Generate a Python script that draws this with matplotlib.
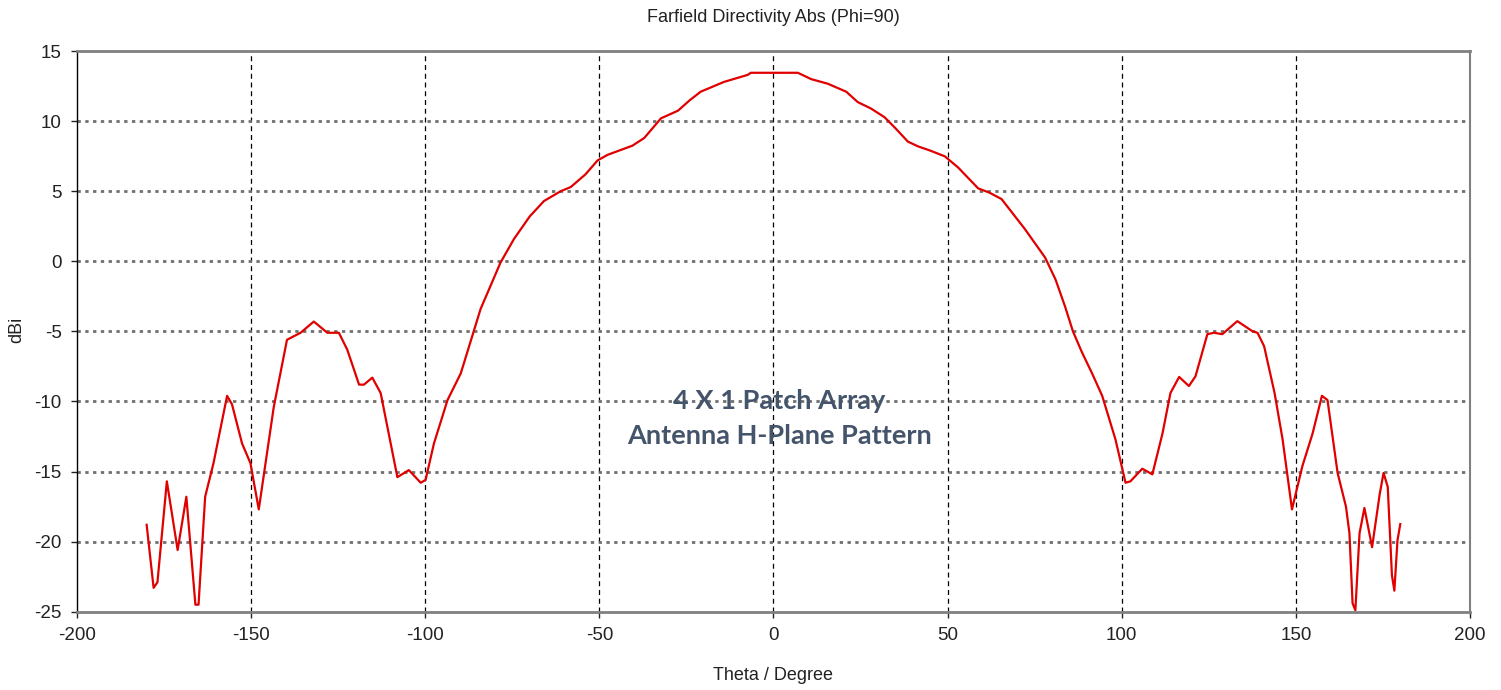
import matplotlib
matplotlib.use("Agg")
import matplotlib.pyplot as plt
import numpy as np

# Farfield directivity, phi = 90 cut
theta = [-180.0, -178.0, -176.9, -174.2, -171.1, -168.6, -166.0, -165.1, -163.2, -160.8,
         -156.9, -155.5, -152.6, -150.2, -147.8, -143.5, -139.7, -135.8, -132.0, -128.1,
         -124.8, -122.4, -119.0, -117.6, -115.2, -112.8, -108.0, -104.7, -101.3, -99.9,
         -97.5, -93.6, -89.8, -84.1, -78.4, -74.5, -70.0, -65.9, -61.1, -58.2, -54.0, -50.5,
         -47.6, -40.5, -37.1, -32.3, -27.4, -24.0, -20.9, -14.2, -7.4, -6.5, 0.0,
         7.0, 10.8, 15.6, 20.9, 24.2, 28.0, 31.9, 35.0, 38.6, 41.5, 45.0, 49.2, 53.0,
         58.8, 62.0, 65.5, 72.2, 78.0, 81.0, 83.7, 86.0, 88.6, 91.5, 94.4, 98.2, 101.1, 102.5,
         105.9, 108.8, 111.7, 114.0, 116.5, 119.3, 121.2, 124.6, 126.5, 128.9,
         133.2, 137.6, 139.0, 140.9, 143.9, 146.2, 148.9, 151.9, 154.8, 157.5,
         159.1, 162.0, 164.4, 165.4, 166.3, 167.1, 168.3, 169.7, 171.9, 174.1,
         175.2, 176.4, 177.6, 178.3, 179.2, 180.0]
dbi = [-18.8, -23.3, -22.9, -15.7, -20.6, -16.8, -24.5, -24.5, -16.8, -14.4,
       -9.6, -10.2, -13.0, -14.4, -17.7, -10.4, -5.6, -5.1, -4.3, -5.1,
       -5.1, -6.3, -8.8, -8.8, -8.3, -9.4, -15.4, -14.9, -15.8, -15.6,
       -13.0, -9.9, -8.0, -3.4, -0.1, 1.6, 3.2, 4.3, 5.0, 5.3, 6.2, 7.2,
       7.6, 8.25, 8.8, 10.2, 10.75, 11.5, 12.1, 12.8, 13.3, 13.45, 13.45,
       13.45, 13.0, 12.67, 12.1, 11.36, 10.9, 10.28, 9.5, 8.54, 8.2, 7.9, 7.49, 6.7,
       5.2, 4.9, 4.44, 2.3, 0.27, -1.3, -3.2, -5.0, -6.5, -8.0, -9.6, -12.7, -15.8, -15.7,
       -14.8, -15.2, -12.3, -9.4, -8.25, -8.9, -8.2, -5.2, -5.1, -5.2,
       -4.27, -5.0, -5.1, -6.06, -9.4, -12.7, -17.7, -14.6, -12.3, -9.6,
       -9.9, -15.1, -17.5, -19.4, -24.4, -24.9, -19.4, -17.6, -20.4, -16.6,
       -15.1, -16.1, -22.4, -23.5, -19.9, -18.75]

x_ticks = [-200, -150, -100, -50, 0, 50, 100, 150, 200]
y_ticks = [-25, -20, -15, -10, -5, 0, 5, 10, 15]

plt.rcParams['font.family'] = ['Liberation Sans', 'DejaVu Sans']
plt.rcParams['axes.unicode_minus'] = False

fig = plt.figure(figsize=(15.01, 6.90), dpi=100)
ax = fig.add_axes([0.0513, 0.1135, 0.9280, 0.8125])

ax.plot(theta, dbi, color="#e00000", linewidth=1.6)

ax.set_xlim(-200, 200)
ax.set_ylim(-25, 15)
ax.set_xticks(x_ticks)
ax.set_yticks(y_ticks)
ax.tick_params(labelsize=13.5, length=4, width=1, colors="#222222", pad=7)

# vertical grid dashed black, horizontal grid dotted gray
for xv in x_ticks[1:-1]:
    ax.axvline(xv, color="black", linestyle=(0, (4, 3)), linewidth=0.9, zorder=0)
for yv in y_ticks[1:-1]:
    ax.axhline(yv, color="#707070", linestyle=(0, (1.2, 1.6)), linewidth=2.0, zorder=0)

ax.spines['left'].set_color("black")
ax.spines['left'].set_linewidth(1.0)
for side in ['top', 'bottom', 'right']:
    ax.spines[side].set_color("#808080")
    ax.spines[side].set_linewidth(2.0)
ax.spines['right'].set_linewidth(1.5)

ax.set_title("Farfield Directivity Abs (Phi=90)", fontsize=13, color="#222222",
             y=1.0606, pad=0, va="center")
ax.set_xlabel("Theta / Degree", fontsize=13, color="#222222")
ax.xaxis.set_label_coords(0.5, -0.1147)
ax.xaxis.label.set_va("center")
ax.set_ylabel("dBi", fontsize=13, color="#222222")
ax.yaxis.set_label_coords(-0.043, 0.502)
ax.yaxis.label.set_va("center")

ax.text(1.6, -11.25, "4 X 1 Patch Array\nAntenna H-Plane Pattern", ha="center", va="center",
        fontsize=19.5, fontweight="bold", color="#44546a", linespacing=1.55,
        family=['Lato', 'DejaVu Sans'])

fig.savefig("out.png", dpi=100)
